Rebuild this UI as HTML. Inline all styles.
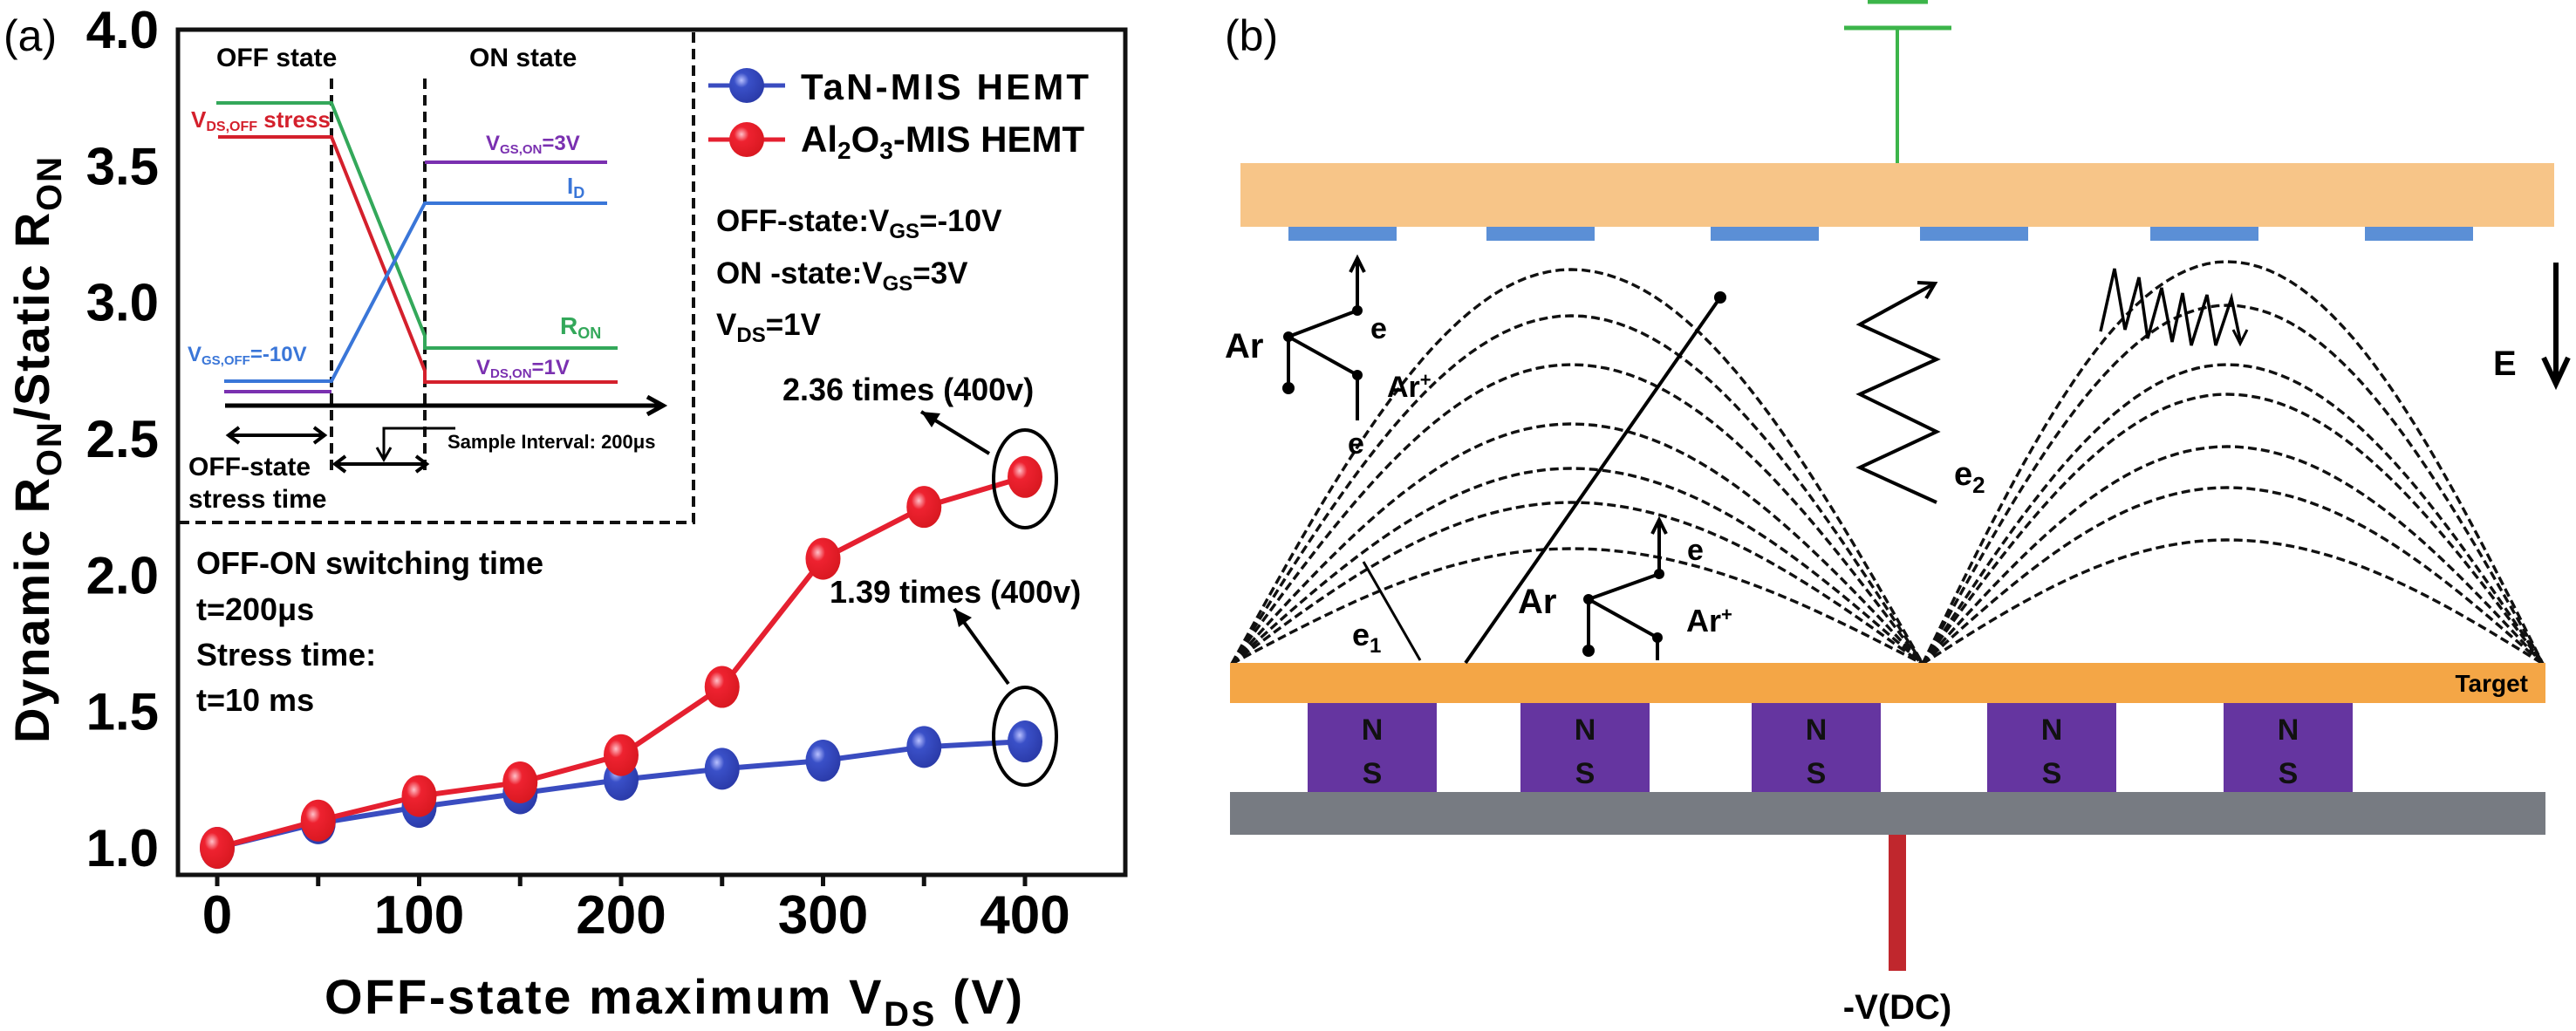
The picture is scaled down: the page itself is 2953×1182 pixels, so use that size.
<!DOCTYPE html>
<html><head><meta charset="utf-8"><style>
html,body{margin:0;padding:0;background:#fff}
svg{display:block}
text{font-family:"Liberation Sans",sans-serif}
.b{font-weight:bold}
</style></head><body>
<svg id="fig" width="2953" height="1182" viewBox="0 0 2953 1182" xmlns="http://www.w3.org/2000/svg">
<defs>
<radialGradient id="gb" cx="0.35" cy="0.35" r="0.7"><stop offset="0" stop-color="#b8c0ff"/><stop offset="0.3" stop-color="#3a50c8"/><stop offset="1" stop-color="#2a3aa8"/></radialGradient>
<radialGradient id="gr" cx="0.35" cy="0.35" r="0.7"><stop offset="0" stop-color="#ffc0c8"/><stop offset="0.3" stop-color="#ee2230"/><stop offset="1" stop-color="#d81820"/></radialGradient>
</defs>

<!-- PANEL A -->
<text x="4" y="58" font-size="50">(a)</text>
<rect x="204" y="34" width="1086" height="969" fill="none" stroke="#111" stroke-width="5"/>
<g id="xticks"></g>
<g id="yticks"></g>
<text class="b" x="372" y="1162" font-size="56" textLength="800">OFF-state maximum V<tspan font-size="40" dy="14">DS</tspan><tspan dy="-14">  (V)</tspan></text>
<text class="b" transform="translate(56,852) rotate(-90)" font-size="56" textLength="672">Dynamic R<tspan font-size="40" dy="14">ON</tspan><tspan dy="-14">/Static R</tspan><tspan font-size="40" dy="14">ON</tspan></text>

<!-- inset -->
<g>
<path d="M205,599 H795 V36" fill="none" stroke="#111" stroke-width="4" stroke-dasharray="12,7"/>
<text class="b" x="248" y="76" font-size="30">OFF state</text>
<text class="b" x="538" y="76" font-size="30">ON state</text>
<line x1="380" y1="90" x2="380" y2="543" stroke="#111" stroke-width="4" stroke-dasharray="12,7"/>
<line x1="487" y1="90" x2="487" y2="543" stroke="#111" stroke-width="4" stroke-dasharray="12,7"/>
<polyline points="248,118 380,118 487,385 487,399 708,399" fill="none" stroke="#33a85a" stroke-width="4"/>
<polyline points="250,157 380,157 487,425 487,438 708,438" fill="none" stroke="#d4202c" stroke-width="4"/>
<polyline points="257,437 380,437 487,233 696,233" fill="none" stroke="#3a76d8" stroke-width="4"/>
<polyline points="257,449 380,449" fill="none" stroke="#7a30b0" stroke-width="4"/>
<polyline points="487,186 696,186" fill="none" stroke="#7a30b0" stroke-width="4"/>
<line x1="258" y1="465" x2="756" y2="465" stroke="#000" stroke-width="5"/>
<path d="M742,455 L760,465 L742,475" fill="none" stroke="#000" stroke-width="5"/>
<text class="b" x="219" y="146" font-size="26" fill="#d4202c">V<tspan font-size="16" dy="4">DS,OFF</tspan><tspan dy="-4"> stress</tspan></text>
<text class="b" x="557" y="172" font-size="24" fill="#7a30b0">V<tspan font-size="15" dy="4">GS,ON</tspan><tspan dy="-4">=3V</tspan></text>
<text class="b" x="650" y="222" font-size="26" fill="#3a76d8">I<tspan font-size="18" dy="5">D</tspan></text>
<text class="b" x="642" y="383" font-size="28" fill="#33a85a">R<tspan font-size="18" dy="5">ON</tspan></text>
<text class="b" x="546" y="429" font-size="24" fill="#7a30b0">V<tspan font-size="15" dy="4">DS,ON</tspan><tspan dy="-4">=1V</tspan></text>
<text class="b" x="215" y="414" font-size="24" fill="#3a76d8">V<tspan font-size="15" dy="4">GS,OFF</tspan><tspan dy="-4">=-10V</tspan></text>
<line x1="262" y1="499" x2="372" y2="499" stroke="#000" stroke-width="4"/>
<path d="M274,490 L262,499 L274,508 M360,490 L372,499 L360,508" fill="none" stroke="#000" stroke-width="4"/>
<line x1="384" y1="532" x2="489" y2="532" stroke="#000" stroke-width="4"/>
<path d="M396,523 L384,532 L396,541 M477,523 L489,532 L477,541" fill="none" stroke="#000" stroke-width="4"/>
<path d="M522,491 L440,491 L440,525" fill="none" stroke="#000" stroke-width="3"/>
<path d="M432,513 L440,527 L448,513" fill="none" stroke="#000" stroke-width="3"/>
<text class="b" x="513" y="514" font-size="22">Sample Interval:  200μs</text>
<text class="b" x="216" y="545" font-size="30">OFF-state</text>
<text class="b" x="216" y="582" font-size="30">stress time</text>
</g>

<!-- legend -->
<g>
<g>
<line x1="812" y1="98" x2="900" y2="98" stroke="#3a4cc0" stroke-width="5"/>
<circle cx="856" cy="98" r="20" fill="url(#gb)"/>
<text class="b" x="918" y="114" font-size="42" textLength="330">TaN-MIS HEMT</text></g>
<g>
<line x1="812" y1="160" x2="900" y2="160" stroke="#e52030" stroke-width="5"/>
<circle cx="856" cy="160" r="20" fill="url(#gr)"/>
<text class="b" x="918" y="174" font-size="42">Al<tspan font-size="28" dy="8">2</tspan><tspan dy="-8">O</tspan><tspan font-size="28" dy="8">3</tspan><tspan dy="-8">-MIS HEMT</tspan></text></g>
</g>
<text class="b" x="821" y="265" font-size="35">OFF-state:V<tspan font-size="24" dy="8">GS</tspan><tspan dy="-8">=-10V</tspan></text>
<text class="b" x="821" y="325" font-size="35">ON -state:V<tspan font-size="24" dy="8">GS</tspan><tspan dy="-8">=3V</tspan></text>
<text class="b" x="821" y="384" font-size="35">V<tspan font-size="24" dy="8">DS</tspan><tspan dy="-8">=1V</tspan></text>
<text class="b" x="225" y="658" font-size="36">OFF-ON switching time</text>
<text class="b" x="225" y="711" font-size="36">t=200μs</text>
<text class="b" x="225" y="763" font-size="36">Stress time:</text>
<text class="b" x="225" y="815" font-size="36">t=10 ms</text>
<text class="b" x="897" y="459" font-size="36">2.36 times  (400v)</text>
<text class="b" x="951" y="691" font-size="36">1.39 times  (400v)</text>
<line x1="1134" y1="520" x2="1056" y2="472" stroke="#000" stroke-width="4"/>
<path d="M1056,472 L1078,474 L1068,490 Z" fill="#000"/>
<line x1="1156" y1="784" x2="1094" y2="698" stroke="#000" stroke-width="4"/>
<path d="M1094,698 L1114,708 L1099,719 Z" fill="#000"/>
<g id="series"></g>
<ellipse cx="1175" cy="549" rx="36" ry="56" fill="none" stroke="#000" stroke-width="4"/>
<ellipse cx="1175" cy="844" rx="36" ry="56" fill="none" stroke="#000" stroke-width="4"/>

<!-- PANEL B -->
<g>
<text x="1404" y="58" font-size="50">(b)</text>
<line x1="2175" y1="32" x2="2175" y2="188" stroke="#3cb54a" stroke-width="4"/>
<line x1="2114" y1="32" x2="2237" y2="32" stroke="#3cb54a" stroke-width="5"/>
<line x1="2141" y1="2" x2="2210" y2="2" stroke="#3cb54a" stroke-width="5"/>
<rect x="1422" y="187" width="1506" height="73" fill="#f7c588"/>
<g id="pads"></g>
<g id="arcs" fill="none" stroke="#111" stroke-width="3.4" stroke-dasharray="10,5"></g>
<rect x="1410" y="760" width="1508" height="46" fill="#f4a646"/>
<text class="b" x="2898" y="793" font-size="28" text-anchor="end">Target</text>
<g id="mags"></g>
<rect x="1410" y="908" width="1508" height="49" fill="#777b82"/>
<rect x="2165" y="957" width="20" height="156" fill="#c0272d"/>
<text class="b" x="2175" y="1168" font-size="40" text-anchor="middle">-V(DC)</text>
<line x1="1680" y1="760" x2="1972" y2="341" stroke="#000" stroke-width="4"/>
<circle cx="1972" cy="341" r="7" fill="#000"/>
<line x1="1628" y1="757" x2="1563" y2="644" stroke="#000" stroke-width="3"/>
<text class="b" x="1550" y="740" font-size="36">e<tspan font-size="24" dy="8">1</tspan></text>
<polyline points="2220,576 2132,536 2220,495 2132,452 2220,412 2132,372 2216,326" fill="none" stroke="#000" stroke-width="4"/>
<path d="M2198,324 L2218,325 L2208,342" fill="none" stroke="#000" stroke-width="4"/>
<text class="b" x="2240" y="556" font-size="38">e<tspan font-size="26" dy="9">2</tspan></text>
<polyline points="2408,380 2424,308 2436,378 2452,318 2462,388 2478,330 2490,392 2502,336 2512,396 2530,338 2540,396 2558,342 2568,390" fill="none" stroke="#000" stroke-width="3.5"/>
<path d="M2560,378 L2568,394 L2576,378" fill="none" stroke="#000" stroke-width="3"/>
<line x1="2930" y1="301" x2="2930" y2="437" stroke="#000" stroke-width="6"/>
<path d="M2916,410 L2930,440 L2944,410" fill="none" stroke="#000" stroke-width="6"/>
<text class="b" x="2858" y="430" font-size="40">E</text>
<g stroke="#000" stroke-width="4" fill="none">
<polyline points="1556,356 1477,386 1556,430 1556,482"/><line x1="1477" y1="386" x2="1477" y2="445"/>
<line x1="1556" y1="356" x2="1556" y2="298"/><path d="M1548,312 L1556,296 L1564,312"/>
</g>
<circle cx="1556" cy="356" r="6"/><circle cx="1477" cy="386" r="6"/><circle cx="1477" cy="445" r="7"/><circle cx="1556" cy="430" r="6"/>
<text class="b" x="1404" y="410" font-size="40">Ar</text>
<text class="b" x="1571" y="388" font-size="34">e</text>
<text class="b" x="1590" y="455" font-size="34">Ar<tspan font-size="22" dy="-12">+</tspan></text>
<text class="b" x="1545" y="520" font-size="34">e</text>
<g stroke="#000" stroke-width="4" fill="none">
<polyline points="1902,658 1821,687 1900,731 1900,757"/><line x1="1821" y1="687" x2="1821" y2="746"/>
<line x1="1902" y1="658" x2="1902" y2="598"/><path d="M1894,612 L1902,596 L1910,612"/>
</g>
<circle cx="1902" cy="658" r="6"/><circle cx="1821" cy="687" r="6"/><circle cx="1821" cy="746" r="7"/><circle cx="1900" cy="731" r="6"/>
<text class="b" x="1740" y="703" font-size="40">Ar</text>
<text class="b" x="1934" y="642" font-size="34">e</text>
<text class="b" x="1933" y="724" font-size="36">Ar<tspan font-size="22" dy="-12">+</tspan></text>
</g>

<script>
var categories=[0,50,100,150,200,250,300,350,400];
var tanValues=[1.00,1.09,1.15,1.20,1.25,1.29,1.32,1.37,1.39];
var al2o3Values=[1.00,1.10,1.19,1.24,1.34,1.59,2.06,2.25,2.36];
var xTickLabels=["0","100","200","300","400"];
var yTickLabels=["1.0","1.5","2.0","2.5","3.0","3.5","4.0"];
var NS="http://www.w3.org/2000/svg";
function X(v){return 249+(v/400)*(1175-249);}
function Y(v){return 972-(v-1)/3*(972-34);}
function mk(tag,attrs,parent){var e=document.createElementNS(NS,tag);for(var k in attrs)e.setAttribute(k,attrs[k]);parent.appendChild(e);return e;}
var xt=document.getElementById('xticks');
for(var v=0;v<=400;v+=50){var l=mk('line',{x1:X(v),x2:X(v),y1:1003,y2:1016,stroke:'#111','stroke-width':5},xt);

}
xTickLabels.forEach(function(s){var t=mk('text',{x:X(+s),y:1070,'font-size':62,'font-weight':'bold','text-anchor':'middle'},xt);t.textContent=s;

});
var yt=document.getElementById('yticks');
yTickLabels.forEach(function(s){var t=mk('text',{x:182,y:Y(+s)+21,'font-size':60,'font-weight':'bold','text-anchor':'end'},yt);t.textContent=s;

});
var sg=document.getElementById('series');
function series(vals,color,grad,name){
var g=mk('g',{},sg);


var pts=vals.map(function(v,i){return X(categories[i])+','+Y(v);}).join(' ');
mk('polyline',{points:pts,fill:'none',stroke:color,'stroke-width':6},g);
vals.forEach(function(v,i){var c=mk('ellipse',{cx:X(categories[i]),cy:Y(v),rx:20,ry:24,fill:grad},g);

});}
series(tanValues,'#3a4cc0','url(#gb)','series-tan');
series(al2o3Values,'#e52030','url(#gr)','series-al2o3');
var padX=[1477,1704,1961,2201,2465,2711];
var pg=document.getElementById('pads');
padX.forEach(function(x){var r=mk('rect',{x:x,y:260,width:124,height:16,fill:'#5b8fd6'},pg);

});
var magX=[1499,1743,2008,2278,2549];
var mg=document.getElementById('mags');
magX.forEach(function(x){var r=mk('rect',{x:x,y:806,width:148,height:102,fill:'#6535a0'},mg);


var a=mk('text',{x:x+74,y:848,'font-size':34,'font-weight':'bold','text-anchor':'middle',fill:'#111'},mg);a.textContent='N';
var b=mk('text',{x:x+74,y:898,'font-size':34,'font-weight':'bold','text-anchor':'middle',fill:'#111'},mg);b.textContent='S';});
var ag=document.getElementById('arcs');
var leftPeaks=[309,362,418,486,537,576,629];
var rightPeaks=[300,350,418,452,512,559,619];
function arc(x0,x1,px,py){var base=761;var h=base-py;var d='';
for(var i=0;i<=60;i++){var t=i/60;var x,y;
if(t<=0.5){var s=t/0.5;x=x0+(px-x0)*s;y=base-h*Math.sin(s*Math.PI/2);}
else{var s2=(t-0.5)/0.5;x=px+(x1-px)*s2;y=base-h*Math.cos(s2*Math.PI/2);}
d+=(i?' L':'M')+x.toFixed(1)+','+y.toFixed(1);}
var p=mk('path',{d:d},ag);

}
leftPeaks.forEach(function(p){arc(1412,2204,1801,p);});
rightPeaks.forEach(function(p){arc(2204,2915,2553,p);});
</script>
</svg>
</body></html>
